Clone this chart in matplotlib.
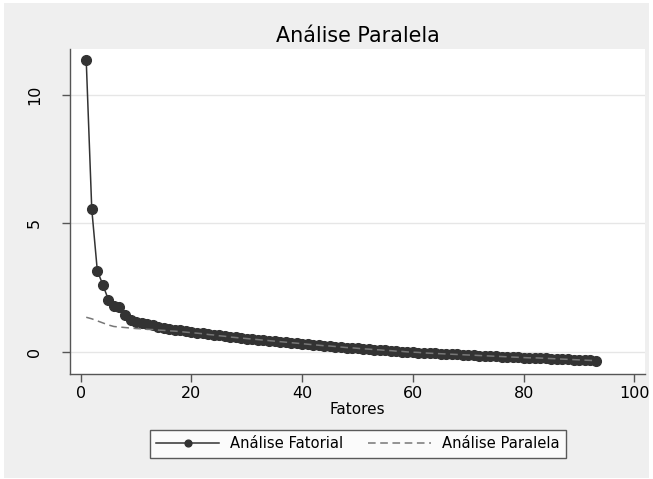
import matplotlib.pyplot as plt
from matplotlib.patches import Rectangle

# eigenvalues
fatores = list(range(1, 94))
fatorial = [11.35, 5.55, 3.16, 2.60, 2.03, 1.77, 1.73, 1.41, 1.24, 1.15,
            1.10, 1.07, 1.03, 0.98, 0.94, 0.90, 0.86, 0.83, 0.80, 0.77,
            0.74, 0.71, 0.68, 0.65, 0.63, 0.60, 0.58, 0.56, 0.53, 0.51,
            0.49, 0.47, 0.45, 0.43, 0.41, 0.39, 0.37, 0.35, 0.33, 0.31,
            0.29, 0.27, 0.25, 0.23, 0.21, 0.20, 0.18, 0.16, 0.14, 0.13,
            0.11, 0.09, 0.08, 0.06, 0.05, 0.03, 0.02, 0.00, -0.01, -0.03,
            -0.04, -0.05, -0.06, -0.07, -0.08, -0.09, -0.10, -0.11, -0.12, -0.13,
            -0.14, -0.15, -0.16, -0.17, -0.18, -0.19, -0.20, -0.21,
            -0.22, -0.23, -0.24, -0.25, -0.25, -0.26, -0.27, -0.28, -0.29, -0.30,
            -0.31, -0.32, -0.33, -0.34, -0.36]
paralela = [1.34, 1.28, 1.20, 1.12, 1.04, 0.98, 0.96, 0.94, 0.92, 0.90,
            0.89, 0.87, 0.86, 0.84, 0.83, 0.81, 0.80, 0.78, 0.76, 0.74,
            0.72, 0.70, 0.67, 0.65, 0.62, 0.60, 0.57, 0.55, 0.53, 0.51,
            0.49, 0.47, 0.45, 0.43, 0.41, 0.39, 0.37, 0.35, 0.33, 0.31,
            0.29, 0.27, 0.25, 0.23, 0.22, 0.20, 0.18, 0.16, 0.15, 0.13,
            0.11, 0.10, 0.08, 0.07, 0.05, 0.04, 0.02, 0.01, -0.01, -0.02,
            -0.03, -0.05, -0.06, -0.07, -0.08, -0.09, -0.10, -0.11, -0.12, -0.13,
            -0.14, -0.15, -0.16, -0.17, -0.18, -0.19, -0.20, -0.21,
            -0.22, -0.23, -0.24, -0.24, -0.25, -0.26, -0.27, -0.28, -0.29, -0.30,
            -0.31, -0.32, -0.33, -0.34, -0.35]
xticks = [0, 20, 40, 60, 80, 100]
yticks = [0, 5, 10]

bg = "#efefef"
dark = "#333333"

fig = plt.figure(figsize=(6.53, 4.79), dpi=100, facecolor="white")
fig.patches.append(Rectangle((4 / 653, 1 / 479), 645 / 653, 475 / 479,
                             transform=fig.transFigure, facecolor=bg,
                             edgecolor="none", zorder=-10))

ax = fig.add_axes([70 / 653, (479 - 374) / 479, 575 / 653, 325 / 479])
ax.set_facecolor("white")

ax.plot(fatores, fatorial, color=dark, lw=1.1, marker="o", markersize=7,
        label="Análise Fatorial", zorder=3)
ax.plot(fatores, paralela, color="#777777", lw=1.1, ls=(0, (5, 3)),
        label="Análise Paralela", zorder=4)

ax.set_xlim(-1.93, 101.9)
ax.set_ylim(-0.87, 11.79)
ax.set_xticks(xticks)
ax.set_yticks(yticks)
ax.grid(axis="y", color="#e6e6e6", lw=1)
ax.set_axisbelow(True)

for s in ["top", "right"]:
    ax.spines[s].set_visible(False)
for s in ["left", "bottom"]:
    ax.spines[s].set_color("#555555")
    ax.spines[s].set_linewidth(1.0)

ax.tick_params(axis="both", colors="#555555", labelcolor="black",
               labelsize=11.5, length=6, width=1)
ax.tick_params(axis="y", pad=14)
ax.tick_params(axis="x", pad=3)
for lab in ax.get_yticklabels():
    lab.set_rotation(90)
    lab.set_va("center")

ax.set_title("Análise Paralela", fontsize=14.9, pad=5)
ax.set_xlabel("Fatores", fontsize=11, labelpad=0)

leg = fig.legend(loc="center", bbox_to_anchor=(358 / 653, 35 / 479), ncol=2,
                 fontsize=10.6, frameon=True, fancybox=False,
                 handlelength=4.3, handletextpad=0.75, columnspacing=1.65,
                 borderpad=0.45, markerscale=0.7)
leg.get_frame().set_edgecolor("#333333")
leg.get_frame().set_linewidth(1.0)

fig.savefig("out.png", dpi=100, facecolor=fig.get_facecolor())
